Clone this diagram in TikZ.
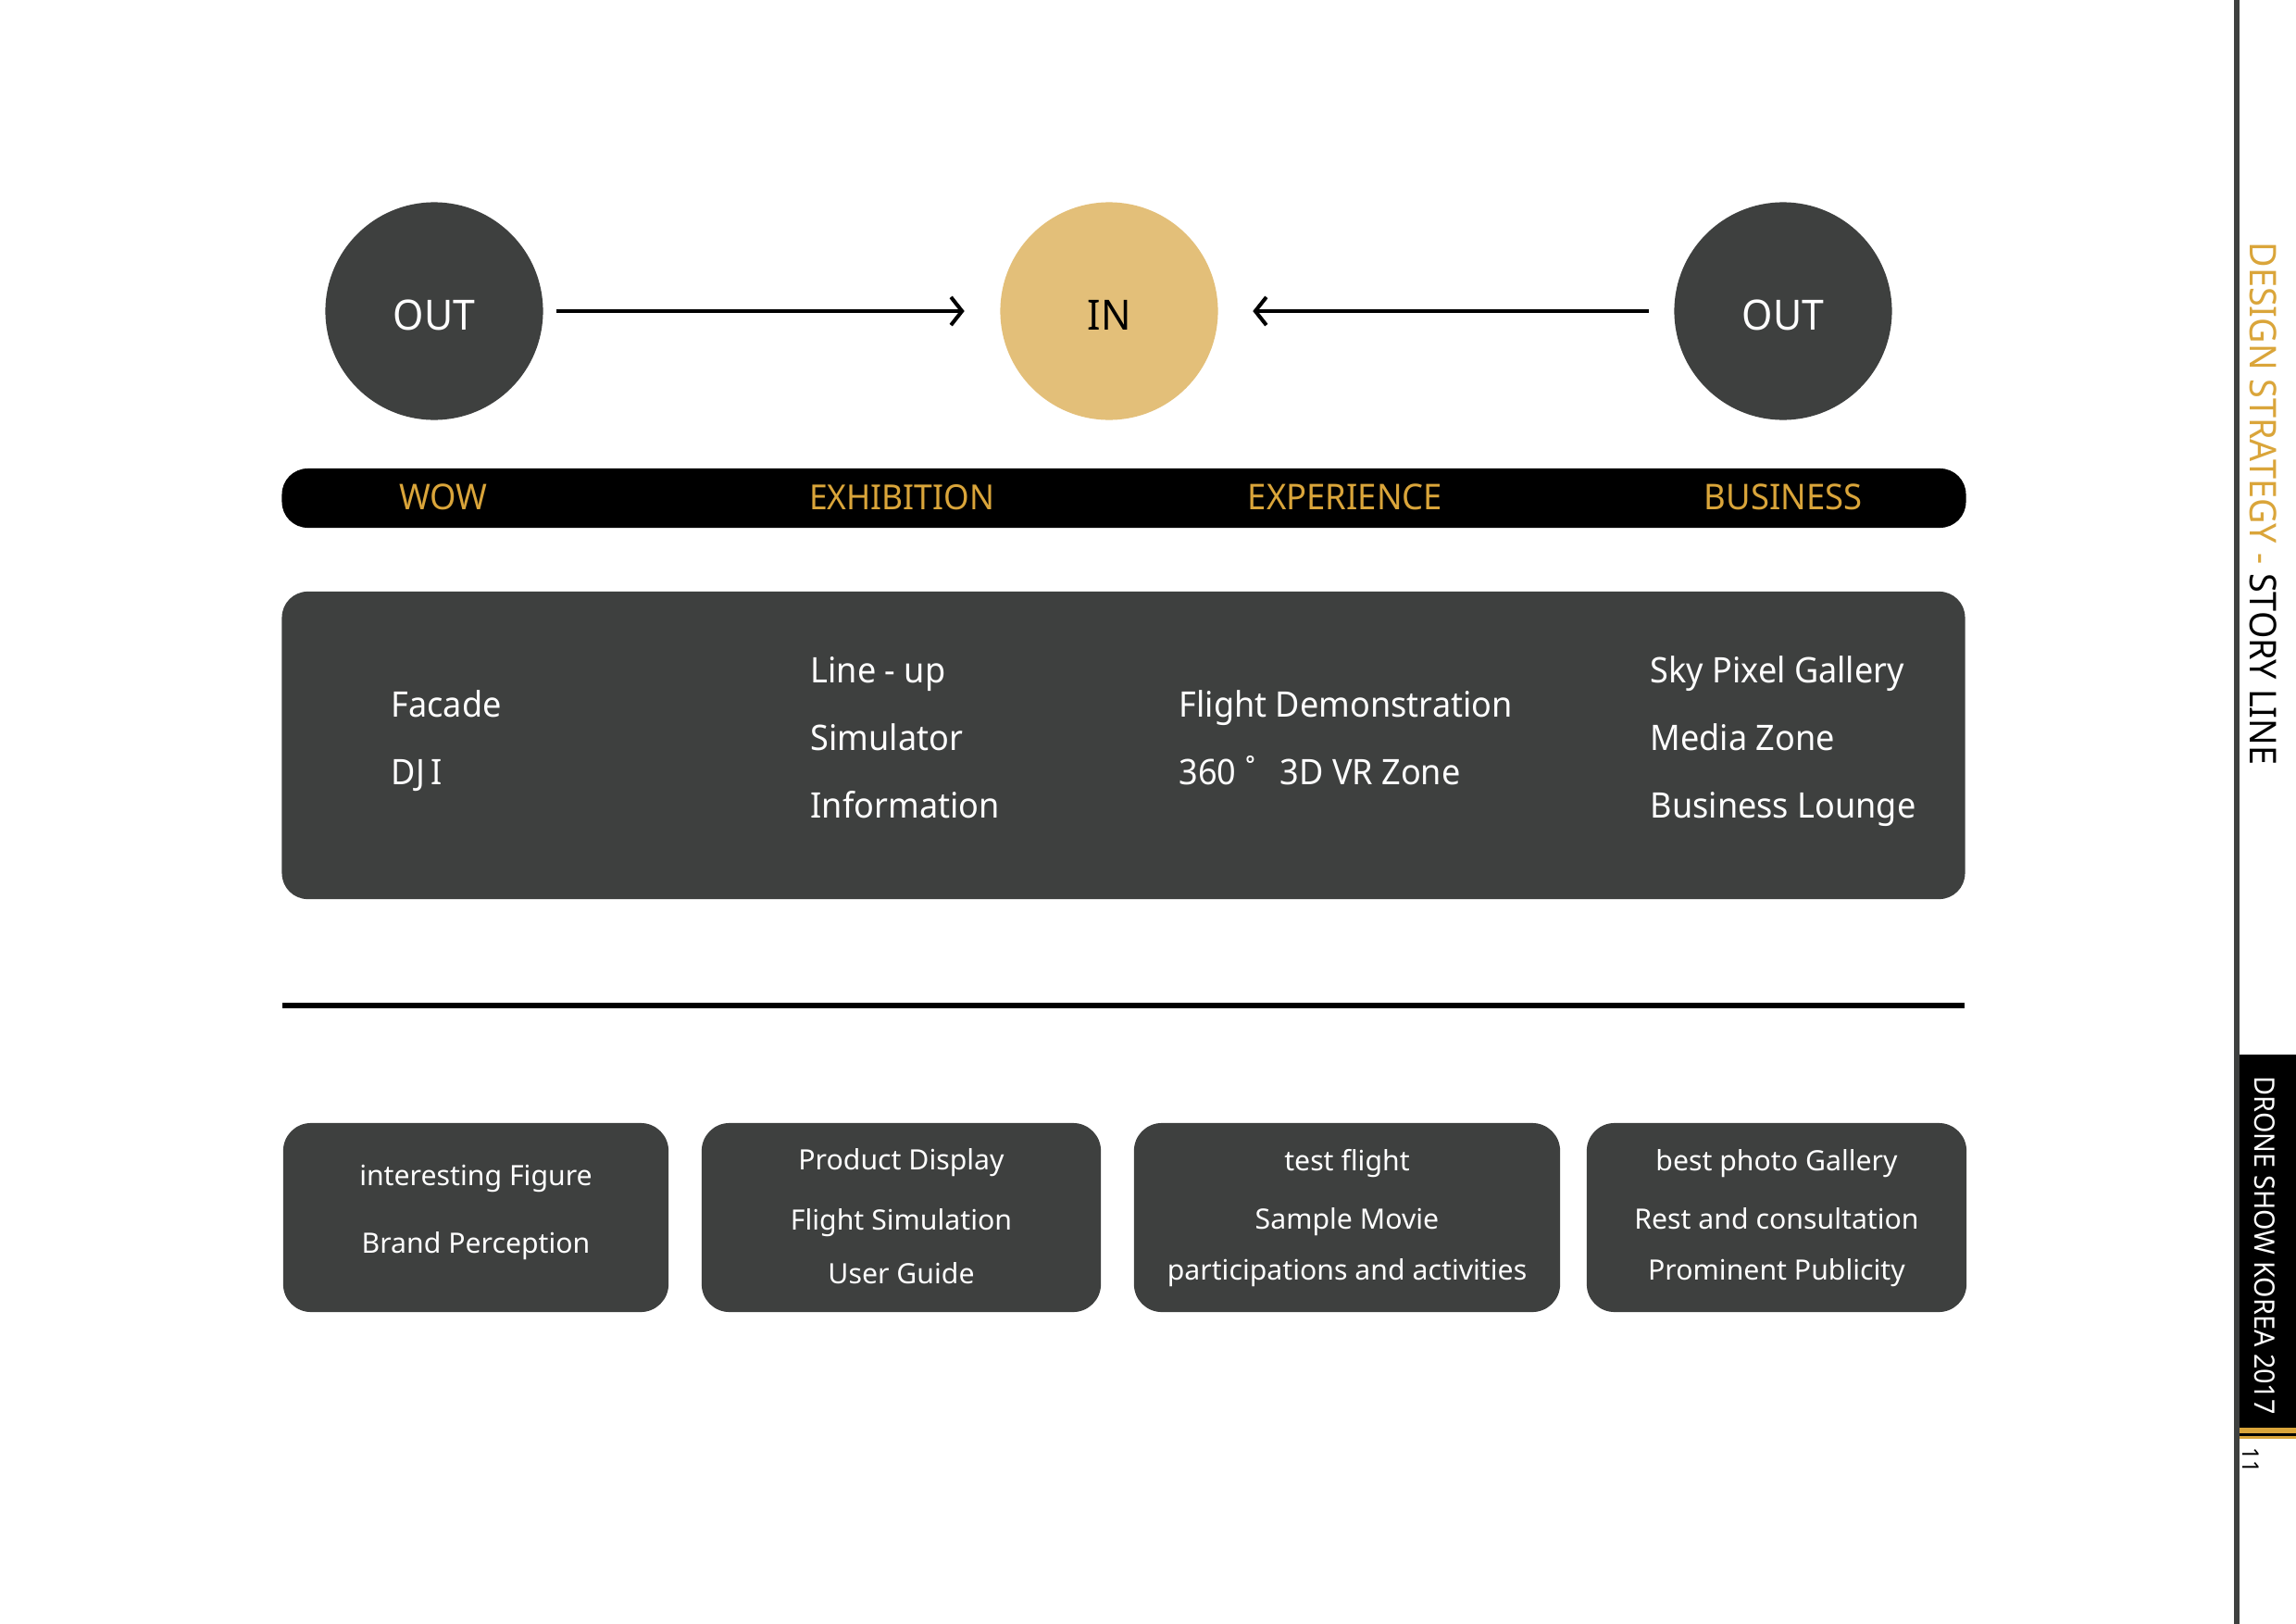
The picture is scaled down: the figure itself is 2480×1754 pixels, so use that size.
\documentclass[tikz,border=0pt]{standalone}
\usepackage{fontspec}
\setmainfont{Noto Sans}[FakeStretch=0.95]
\newfontfamily\plainfont{Noto Sans}
\usetikzlibrary{arrows.meta}
\definecolor{darkg}{RGB}{62,64,63}
\definecolor{goldc}{RGB}{227,191,121}
\definecolor{goldt}{RGB}{218,165,58}
\begin{document}
\begin{tikzpicture}[x=0.01cm,y=-0.01cm,
 circ/.style={circle,minimum size=2.35cm,inner sep=0,text height=0.40cm,text depth=0pt,font=\fontsize{12.8}{14}\selectfont},
 arr/.style={line width=1.15pt,-{Straight Barb[length=3.4pt,width=8.6pt]}},
 lab/.style={anchor=base,inner sep=0,text=goldt,font=\fontsize{10.9}{12}\selectfont},
 btxt/.style={anchor=base west,inner sep=0,text=white,font=\fontsize{10.8}{12}\selectfont},
 stxt/.style={anchor=base,inner sep=0,text=white,font=\plainfont\fontsize{8.6}{10}\selectfont},
 sbox/.style={fill=darkg,rounded corners=0.3cm,inner sep=0,minimum height=2.04cm},
 vtxt/.style={rotate=-90,anchor=base west,inner sep=0},
]
\useasboundingbox (0,0) rectangle (2480,1754);
\fill[white] (0,0) rectangle (2480,1754);

% circles
\node[circ,fill=darkg,text=white] (o1) at (469,336) {OUT};
\node[circ,fill=goldc,text=black] (in) at (1198,336) {IN};
\node[circ,fill=darkg,text=white] (o2) at (1926,336) {OUT};
\draw[arr,shorten <=0.14cm,shorten >=0.38cm] (o1) -- (in);
\draw[arr,shorten <=0.27cm,shorten >=0.37cm] (o2) -- (in);

% black bar
\node[fill=black,rounded corners=0.28cm,inner sep=0,minimum width=18.18cm,minimum height=0.64cm] (bar) at (1214,538) {};
\node[lab] (l1) at (479,550) {WOW};
\node[lab] (l2) at (974,550) {\fontsize{10.6}{12}\selectfont EXHIBITION};
\node[lab] (l3) at (1453,550) {EXPERIENCE};
\node[lab] (l4) at (1926,550) {BUSINESS};

% big box
\node[fill=darkg,rounded corners=0.28cm,inner sep=0,minimum width=18.17cm,minimum height=3.32cm] (big) at (1213.5,805) {};
\node[btxt] (t11) at (422,774) {Facade};
\node[btxt] (t12) at (422,847) {DJ\,I};
\node[btxt] (t21) at (875,737) {Line - up};
\node[btxt] (t22) at (875,810) {Simulator};
\node[btxt] (t23) at (875,883) {Information};
\node[btxt] (t31) at (1273,774) {Flight Demonstration};
\node[btxt] (t32) at (1273,847) {360 ˚ \ \hspace{2.3pt}3D VR Zone};
\node[btxt] (t41) at (1782,737) {Sky Pixel Gallery};
\node[btxt] (t42) at (1782,810) {Media Zone};
\node[btxt] (t43) at (1782,883) {Business Lounge};

% rule
\draw[line width=0.06cm] (305,1086) -- (2122,1086);

% bottom boxes
\node[sbox,minimum width=4.16cm] (b1) at (514,1315) {};
\node[sbox,minimum width=4.31cm] (b2) at (973.5,1315) {};
\node[sbox,minimum width=4.60cm] (b3) at (1455,1315) {};
\node[sbox,minimum width=4.10cm] (b4) at (1919,1315) {};
\node[stxt] (s11) at (514,1280) {interesting Figure};
\node[stxt] (s12) at (514,1353) {Brand Perception};
\node[stxt] (s21) at (973.5,1263) {Product Display};
\node[stxt] (s22) at (973.5,1328) {Flight Simulation};
\node[stxt] (s23) at (973.5,1386) {User Guide};
\node[stxt] (s31) at (1455,1264) {test flight};
\node[stxt] (s32) at (1455,1327) {Sample Movie};
\node[stxt] (s33) at (1455,1382) {participations and activities};
\node[stxt] (s41) at (1919,1264) {best photo Gallery};
\node[stxt] (s42) at (1919,1327) {Rest and consultation};
\node[stxt] (s43) at (1919,1382) {Prominent Publicity};

% right margin
\fill[darkg] (2413,0) rectangle (2419,1754);
\fill[black] (2419,1139) rectangle (2480,1542);
\fill[goldt] (2419,1542) rectangle (2480,1548);
\fill[black] (2419,1548) rectangle (2480,1551);
\fill[goldt] (2419,1551) rectangle (2480,1554);
\node[vtxt,font=\fontsize{11.3}{14}\selectfont] (title) at (2430,261) {\textcolor{goldt}{DESIGN STRATEGY -} STORY LINE};
\node[vtxt,text=white,font=\fontsize{8.6}{11}\selectfont] (brand) at (2435,1162) {DRONE SHOW KOREA 2017};
\node[vtxt,font=\fontsize{7}{8}\selectfont] (page) at (2422,1563) {11};
\end{tikzpicture}
\end{document}
